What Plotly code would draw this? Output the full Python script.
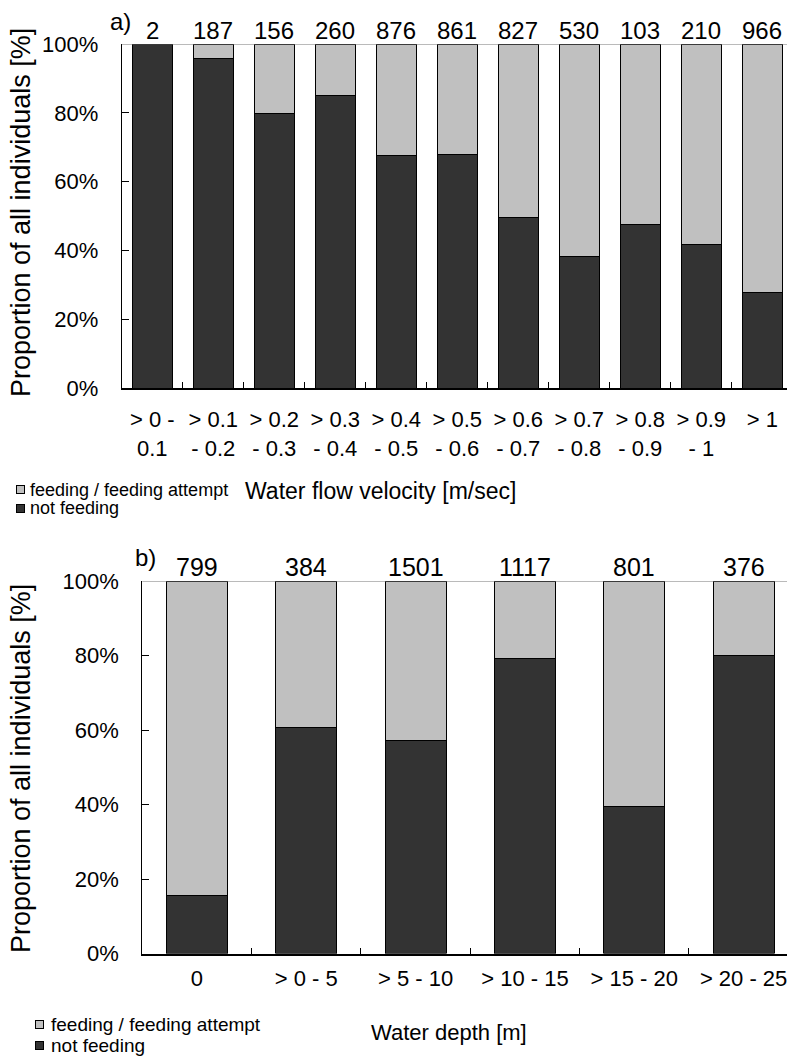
import plotly.graph_objects as go

# ---------------- data ----------------
velocity_labels = ["> 0 -<br>0.1", "> 0.1<br>- 0.2", "> 0.2<br>- 0.3", "> 0.3<br>- 0.4",
                   "> 0.4<br>- 0.5", "> 0.5<br>- 0.6", "> 0.6<br>- 0.7", "> 0.7<br>- 0.8",
                   "> 0.8<br>- 0.9", "> 0.9<br>- 1", "> 1"]
velocity_n = [2, 187, 156, 260, 876, 861, 827, 530, 103, 210, 966]
velocity_not_feeding = [1.000, 0.958, 0.799, 0.851, 0.675, 0.680, 0.497, 0.381, 0.475, 0.416, 0.278]
velocity_feeding = [round(1 - v, 3) for v in velocity_not_feeding]

depth_labels = ["0", "> 0 - 5", "> 5 - 10", "> 10 - 15", "> 15 - 20", "> 20 - 25"]
depth_n = [799, 384, 1501, 1117, 801, 376]
depth_not_feeding = [0.155, 0.608, 0.572, 0.791, 0.395, 0.801]
depth_feeding = [round(1 - v, 3) for v in depth_not_feeding]

y_ticks = [0, 0.2, 0.4, 0.6, 0.8, 1.0]
series_names = ["feeding / feeding attempt", "not feeding"]

# ---------------- style ----------------
W, H = 787, 1057
FONT = "Liberation Sans, Arial, sans-serif"
DARK = "#333333"
LIGHT = "#C0C0C0"
series_colors = [LIGHT, DARK]

def py(p):  # pixel row -> paper y
    return 1 - p / H

fig = go.Figure()

# top chart
fig.add_trace(go.Bar(x=velocity_labels, y=velocity_not_feeding, name=series_names[1],
                     marker=dict(color=DARK, line=dict(color="black", width=1)),
                     xaxis="x", yaxis="y", showlegend=False))
fig.add_trace(go.Bar(x=velocity_labels, y=velocity_feeding, name=series_names[0],
                     marker=dict(color=LIGHT, line=dict(color="black", width=1)),
                     xaxis="x", yaxis="y", showlegend=False))
# bottom chart
fig.add_trace(go.Bar(x=depth_labels, y=depth_not_feeding, name=series_names[1],
                     marker=dict(color=DARK, line=dict(color="black", width=1)),
                     xaxis="x2", yaxis="y2", width=0.56, showlegend=False))
fig.add_trace(go.Bar(x=depth_labels, y=depth_feeding, name=series_names[0],
                     marker=dict(color=LIGHT, line=dict(color="black", width=1)),
                     xaxis="x2", yaxis="y2", width=0.56, showlegend=False))

top_left = 121.8
top_step = 61.0
bot_left = 142.3
bot_step = 109.33

axis_common = dict(showgrid=False, zeroline=False, showline=True, linecolor="black",
                   tickcolor="black", tickfont=dict(family=FONT, size=22, color="black"),
                   automargin=False)

fig.update_layout(
    width=W, height=H,
    margin=dict(l=0, r=0, t=0, b=0, autoexpand=False),
    paper_bgcolor="white", plot_bgcolor="white",
    barmode="stack",
    showlegend=False,
    font=dict(family=FONT, color="black"),
    xaxis=dict(domain=[top_left / W, 1.0], anchor="y", type="category",
               range=[-0.5, -0.5 + (W - top_left) / top_step],
               ticks="inside", tickson="boundaries", ticklen=6, linewidth=1.5,
               ticklabelstandoff=11, **axis_common),
    yaxis=dict(domain=[py(388), py(44)], anchor="x", range=[0, 1],
               tickvals=y_ticks, tickformat=".0%", ticks="inside", ticklen=7,
               linewidth=1, ticklabelstandoff=18, **axis_common),
    xaxis2=dict(domain=[bot_left / W, 1.0], anchor="y2", type="category",
                range=[-0.5, -0.5 + (W - bot_left) / bot_step],
                ticks="inside", tickson="boundaries", ticklen=6, linewidth=1.5,
                ticklabelstandoff=4, **axis_common),
    yaxis2=dict(domain=[py(953.5), py(581)], anchor="x2", range=[0, 1],
                tickvals=y_ticks, tickformat=".0%", ticks="inside", ticklen=7,
                linewidth=1, ticklabelstandoff=18, **axis_common),
    bargap=0.34,
)

# gray line along the top (100 %) of each plot
for xr, yr in (("x domain", "y"), ("x2 domain", "y2")):
    fig.add_shape(type="line", xref=xr, x0=0, x1=1, yref=yr, y0=1, y1=1,
                  line=dict(color="#777777", width=1))

ann = []
for lab, n in zip(velocity_labels, velocity_n):
    ann.append(dict(x=lab, y=1, xref="x", yref="y", text=str(n), showarrow=False,
                    yanchor="middle", yshift=14, font=dict(family=FONT, size=24, color="black")))
for lab, n in zip(depth_labels, depth_n):
    ann.append(dict(x=lab, y=1, xref="x2", yref="y2", text=str(n), showarrow=False,
                    yanchor="middle", yshift=14, font=dict(family=FONT, size=25, color="black")))

text_ann = [
    ("a)", 120, 22, 0, 24),
    ("b)", 145, 557, 0, 24),
    ("Proportion of all individuals [%]", 21, 213, -90, 27),
    ("Proportion of all individuals [%]", 21, 769, -90, 27),
    ("Water flow velocity [m/sec]", 380, 491, 0, 23),
    ("Water depth [m]", 449, 1032, 0, 22),
]
for t, xp, yp, ang, sz in text_ann:
    ann.append(dict(x=xp / W, y=py(yp), xref="paper", yref="paper", text=t,
                    showarrow=False, textangle=ang, xanchor="center", yanchor="middle",
                    font=dict(family=FONT, size=sz, color="black")))

# legends (key squares + labels), one per chart
legend_specs = [  # (box centre x, text left x, row y list, font size)
    (20, 28, [490, 508], 18),
    (39, 49, [1024, 1045], 19),
]
for bx, tx, rows, fs in legend_specs:
    for name, col, ry in zip(series_names, series_colors, rows):
        ann.append(dict(x=bx / W, y=py(ry), xref="paper", yref="paper", text=" ",
                        showarrow=False, xanchor="center", yanchor="middle",
                        width=7, height=7, borderpad=0, bgcolor=col,
                        bordercolor="black", borderwidth=1, font=dict(size=6)))
        ann.append(dict(x=tx / W, y=py(ry), xref="paper", yref="paper", text=name,
                        showarrow=False, xanchor="left", yanchor="middle",
                        font=dict(family=FONT, size=fs, color="black")))

fig.update_layout(annotations=ann)

fig.write_html("out.html", config={"displayModeBar": False},
               post_script="document.body.style.margin='0px';")
